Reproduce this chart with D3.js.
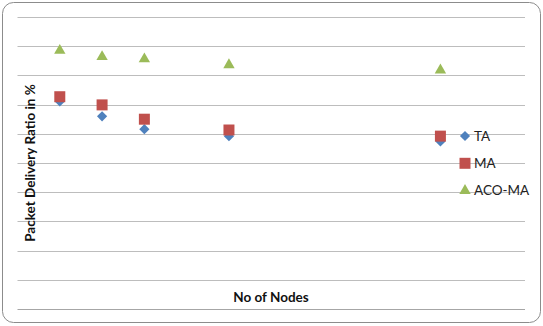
<!DOCTYPE html>
<html>
<head>
<meta charset="utf-8">
<script src="https://cdn.jsdelivr.net/npm/d3@7"></script>
<style>
  body { margin: 0; background: #fff; }
  svg { display: block; font-family: Lato, "Open Sans", sans-serif; }
</style>
</head>
<body>
<script>
// data
var nodes = [10, 20, 30, 50, 100];
var taValues = [71.1, 66.0, 61.6, 59.2, 57.4];
var maValues = [72.7, 69.9, 65.0, 61.3, 59.2];
var acoValues = [88.5, 86.4, 85.6, 83.6, 81.8];
var seriesNames = ["TA", "MA", "ACO-MA"];
var yTicks = [0, 10, 20, 30, 40, 50, 60, 70, 80, 90, 100];

var width = 543, height = 326;
var plot = { left: 17.5, right: 525, top: 17, bottom: 309 };

var svg = d3.select("body").append("svg")
  .attr("width", width)
  .attr("height", height);

// chart frame
svg.append("rect")
  .attr("x", 2.5).attr("y", 2.5)
  .attr("width", 538).attr("height", 320)
  .attr("rx", 11).attr("ry", 11)
  .attr("fill", "#fff")
  .attr("stroke", "#8c8c8c")
  .attr("stroke-width", 1);

var x = d3.scaleLinear().domain([0, 120]).range([plot.left, plot.right]);
var y = d3.scaleLinear().domain([0, 100]).range([plot.bottom, plot.top]);

// gridlines
svg.append("g")
  .selectAll("line")
  .data(yTicks)
  .enter()
  .append("line")
  .attr("x1", plot.left)
  .attr("x2", plot.right)
  .attr("y1", function (d) { return Math.round(y(d)) + 0.5; })
  .attr("y2", function (d) { return Math.round(y(d)) + 0.5; })
  .attr("stroke", function (d) { return d === 0 ? "#a6a6a6" : "#bdbdbd"; })
  .attr("stroke-width", 1);

var colors = ["#4f81bd", "#c0504d", "#9bbb59"];
var symbols = [
  d3.symbol().type(d3.symbolSquare).size(52),
  d3.symbol().type(d3.symbolSquare).size(121),
  d3.symbol().type(d3.symbolTriangle).size(56)
];
var rotations = [45, 0, 0];
var allValues = [taValues, maValues, acoValues];

allValues.forEach(function (vals, i) {
  svg.append("g")
    .selectAll("path")
    .data(vals)
    .enter()
    .append("path")
    .attr("d", symbols[i])
    .attr("fill", colors[i])
    .attr("transform", function (d, j) {
      return "translate(" + x(nodes[j]) + "," + y(d) + ") rotate(" + rotations[i] + ")";
    });
});

// legend
var legend = svg.append("g")
  .selectAll("g")
  .data(seriesNames)
  .enter()
  .append("g")
  .attr("transform", function (d, i) { return "translate(465," + (136 + i * 27.3) + ")"; });

legend.append("path")
  .attr("d", function (d, i) { return symbols[i](); })
  .attr("fill", function (d, i) { return colors[i]; })
  .attr("transform", function (d, i) { return "rotate(" + rotations[i] + ")"; });

legend.append("text")
  .attr("x", 9)
  .attr("dy", "0.35em")
  .attr("font-size", 13.5)
  .attr("fill", "#222")
  .text(function (d) { return d; });

// axis titles
svg.append("text")
  .attr("x", 271)
  .attr("y", 302)
  .attr("text-anchor", "middle")
  .attr("font-size", 13.5)
  .attr("font-weight", "bold")
  .attr("fill", "#111")
  .text("No of Nodes");

svg.append("text")
  .attr("transform", "translate(35,163) rotate(-90)")
  .attr("text-anchor", "middle")
  .attr("font-size", 13.5)
  .attr("font-weight", "bold")
  .attr("fill", "#111")
  .text("Packet Delivery Ratio in %");
</script>
</body>
</html>
